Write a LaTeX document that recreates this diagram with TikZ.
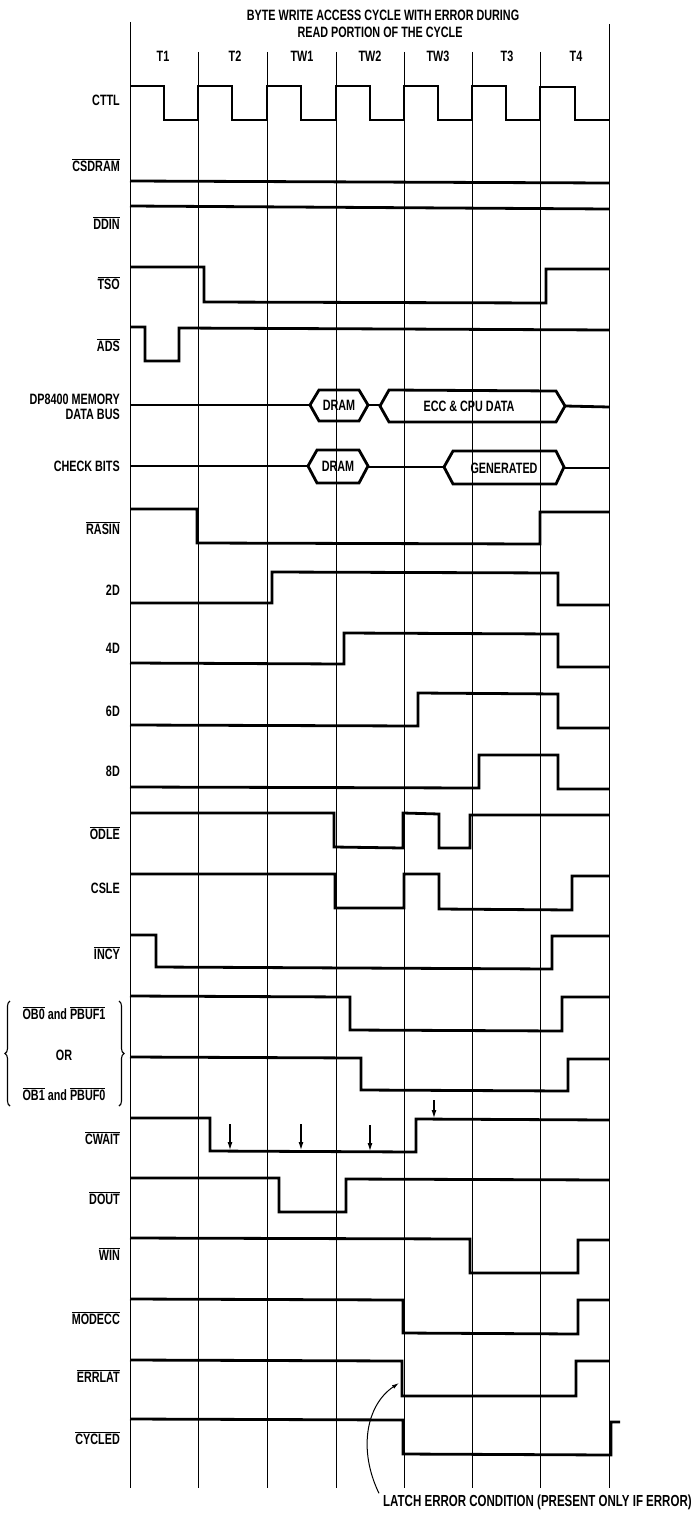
\documentclass[tikz,border=0pt]{standalone}
\usepackage{fontspec}
\setmainfont{Liberation Sans}[FakeStretch=0.72]
\usetikzlibrary{arrows.meta,decorations.pathreplacing}
\newcommand\ol[1]{\ensuremath{\overline{\mbox{#1}}}}
\tikzset{
  sig/.style={line width=2.8pt, line join=miter},
  gridline/.style={line width=1pt},
  txt/.style={font=\bfseries\fontsize{15}{15}\selectfont, inner sep=0pt},
  lab/.style={txt, anchor=east},
  tick/.style={line width=1.1pt, -{Latex[length=8pt,width=5pt]}},
}
\begin{document}
\begin{tikzpicture}[x=1pt,y=-1pt]
\fill[white] (0,0) rectangle (694,1514);
\useasboundingbox (0,0) rectangle (694,1514);

% grid
\draw[gridline] (130,22) -- (130,1488);
\foreach \x in {198,267,336,404,472,540} \draw[gridline] (\x,52) -- (\x,1488);
\draw[gridline] (609,24) -- (609,1488);

% title and period labels
\node[txt] (title1) at (383,15) {BYTE WRITE ACCESS CYCLE WITH ERROR DURING};
\node[txt] (title2) at (380,32) {READ PORTION OF THE CYCLE};
\node[txt] (pt1) at (163,56) {T1};
\node[txt] (pt2) at (235,56) {T2};
\node[txt] (pw1) at (302,56) {TW1};
\node[txt] (pw2) at (370,56) {TW2};
\node[txt] (pw3) at (438,56) {TW3};
\node[txt] (pt3) at (507,56) {T3};
\node[txt] (pt4) at (576,56) {T4};

% signal names
\node[lab] (lcttl) at (120,100) {CTTL};
\node[lab] (lcsdram) at (120,165) {\ol{CSDRAM}};
\node[lab] (lddin) at (120,223) {\ol{DDIN}};
\node[lab] (ltso) at (120,283) {\ol{TSO}};
\node[lab] (lads) at (120,345) {\ol{ADS}};
\node[lab, align=right] (lbus) at (120,407) {DP8400 MEMORY\\DATA BUS};
\node[lab] (lchk) at (120,466) {CHECK BITS};
\node[lab] (lrasin) at (120,528) {\ol{RASIN}};
\node[lab] (l2d) at (120,590) {2D};
\node[lab] (l4d) at (120,648) {4D};
\node[lab] (l6d) at (120,711) {6D};
\node[lab] (l8d) at (120,771) {8D};
\node[lab] (lodle) at (120,833) {\ol{ODLE}};
\node[lab] (lcsle) at (120,888) {CSLE};
\node[lab] (lincy) at (120,953) {\ol{INCY}};
\node[txt] (lob0) at (64,1013) {\ol{OB0} and \ol{PBUF1}};
\node[txt] (lor) at (64,1055) {OR};
\node[txt] (lob1) at (64,1094) {\ol{OB1} and \ol{PBUF0}};
\draw[line width=1.1pt, decorate, decoration={brace, amplitude=5pt}] (10,1106) -- (10,1001);
\draw[line width=1.1pt, decorate, decoration={brace, amplitude=5pt}] (119,1001) -- (119,1106);
\node[lab] (lcwait) at (120,1138) {\ol{CWAIT}};
\node[lab] (ldout) at (120,1198) {\ol{DOUT}};
\node[lab] (lwin) at (120,1254) {\ol{WIN}};
\node[lab] (lmodecc) at (120,1318) {\ol{MODECC}};
\node[lab] (lerrlat) at (120,1376) {\ol{ERRLAT}};
\node[lab] (lcycled) at (120,1438) {\ol{CYCLED}};

% CTTL clock
\draw[sig] (130,86) -- (164,86) -- (164,120) -- (198,120) -- (198,86) -- (232,86) -- (232,120)
  -- (267,120) -- (267,86) -- (301,86) -- (301,120) -- (336,120) -- (336,86) -- (370,86) -- (370,120)
  -- (404,120) -- (404,86) -- (438,86) -- (438,120) -- (472,120) -- (472,86) -- (506,86) -- (506,120)
  -- (540,120) -- (540,87) -- (575,87) -- (575,120) -- (609,120);
% CSDRAM, DDIN
\draw[sig] (130,181) -- (609,183);
\draw[sig] (130,206) -- (609,209);
% TSO
\draw[sig] (130,267) -- (204,267) -- (204,302) -- (546,303) -- (546,269) -- (609,269);
% ADS
\draw[sig] (130,327) -- (145,327) -- (145,361) -- (179,361) -- (179,328) -- (609,330);
% DP8400 memory data bus
\draw[sig] (130,405) -- (310,405);
\draw[sig] (310,405) -- (319,390) -- (359,390) -- (368,405) -- (359,421) -- (319,421) -- cycle;
\node[txt] (bdram) at (339,405) {DRAM};
\draw[sig] (368,405) -- (380,405);
\draw[sig] (380,406) -- (389,390) -- (556,391) -- (565,406) -- (556,422) -- (389,422) -- cycle;
\node[txt] (becc) at (469,406) {ECC \& CPU DATA};
\draw[sig] (565,406) -- (609,407);
% check bits
\draw[sig] (130,466) -- (308,466);
\draw[sig] (308,466) -- (317,450) -- (359,450) -- (368,466) -- (359,483) -- (317,483) -- cycle;
\node[txt] (cdram) at (338,466) {DRAM};
\draw[sig] (368,467) -- (444,467);
\draw[sig] (444,467) -- (453,451) -- (556,451) -- (564,467) -- (556,484) -- (453,484) -- cycle;
\node[txt] (cgen) at (504,468) {GENERATED};
\draw[sig] (564,468) -- (609,468);
% RASIN
\draw[sig] (130,509) -- (197,509) -- (197,543) -- (540,544) -- (540,512) -- (609,512);
% 2D 4D 6D 8D
\draw[sig] (130,603) -- (272,603) -- (272,572) -- (558,573) -- (558,605) -- (609,605);
\draw[sig] (130,663) -- (344,664) -- (344,633) -- (558,634) -- (558,667) -- (609,667);
\draw[sig] (130,725) -- (418,726) -- (418,693) -- (558,694) -- (558,728) -- (609,728);
\draw[sig] (130,787) -- (479,788) -- (479,755) -- (558,755) -- (558,789) -- (609,789);
% ODLE
\draw[sig] (130,813) -- (334,813) -- (334,847) -- (403,848) -- (403,813) -- (439,814) -- (439,848)
  -- (470,848) -- (470,815) -- (609,815);
% CSLE
\draw[sig] (130,874) -- (335,874) -- (335,908) -- (404,908) -- (404,874) -- (439,874) -- (439,909)
  -- (572,910) -- (572,876) -- (609,876);
% INCY
\draw[sig] (130,935) -- (156,935) -- (156,967) -- (552,969) -- (552,936) -- (609,936);
% OB0/PBUF1 and OB1/PBUF0
\draw[sig] (130,996) -- (350,997) -- (350,1030) -- (562,1031) -- (562,997) -- (609,997);
\draw[sig] (130,1057) -- (361,1058) -- (361,1090) -- (568,1091) -- (568,1059) -- (609,1059);
% CWAIT
\draw[sig] (130,1118) -- (210,1118) -- (210,1151) -- (416,1152) -- (416,1119) -- (609,1120);
\coordinate (w1) at (230,1150); \coordinate (w2) at (301,1150); \coordinate (w3) at (370,1151);
\coordinate (w4) at (434,1118);
\draw[tick] (230,1124) -- (w1);
\draw[tick] (301,1124) -- (w2);
\draw[tick] (370,1125) -- (w3);
\draw[tick] (434,1100) -- (w4);
% DOUT
\draw[sig] (130,1178) -- (279,1178) -- (279,1212) -- (346,1212) -- (346,1179) -- (609,1180);
% WIN
\draw[sig] (130,1238) -- (470,1239) -- (470,1273) -- (578,1273) -- (578,1240) -- (609,1240);
% MODECC
\draw[sig] (130,1299) -- (403,1300) -- (403,1333) -- (578,1334) -- (578,1300) -- (609,1300);
% ERRLAT
\draw[sig] (130,1360) -- (402,1361) -- (402,1396) -- (576,1396) -- (576,1361) -- (609,1361);
% CYCLED
\draw[sig] (130,1419) -- (403,1420) -- (403,1454) -- (611,1455) -- (611,1422) -- (620,1422);

% annotation
\node[txt, font=\bfseries\fontsize{16}{16}\selectfont, anchor=west] (latch) at (383,1502)
  {LATCH ERROR CONDITION (PRESENT ONLY IF ERROR)};
\coordinate (errf) at (399,1383);
\draw[line width=1pt, -{Latex[length=7pt,width=4pt]}] (latch.north west) ++(-4,-1)
  .. controls (358,1450) and (366,1405) .. (errf);
\end{tikzpicture}
\end{document}
